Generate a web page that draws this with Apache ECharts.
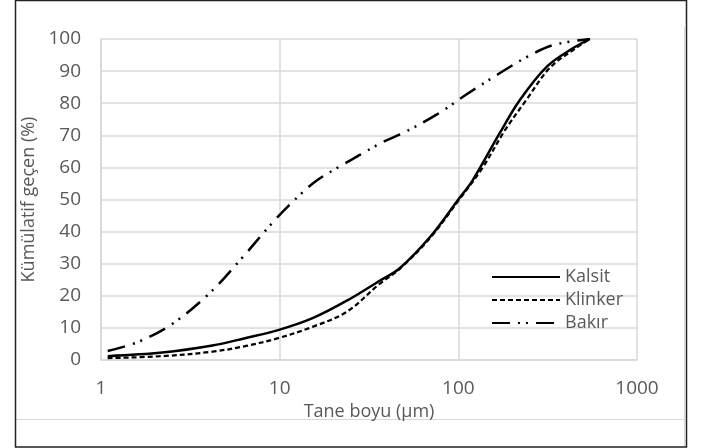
<!DOCTYPE html>
<html><head><meta charset="utf-8">
<script src="https://cdn.jsdelivr.net/npm/echarts@6/dist/echarts.min.js"></script>
<style>html,body{margin:0;padding:0;background:#fff}#c{width:708px;height:448px}</style>
</head><body><div id="c"></div>
<script>
var seriesNames = ['Kalsit', 'Klinker', 'Bakır'];
var xTickLabels = ['1', '10', '100', '1000'];
var kalsitX = [1.09, 2.2, 4.2, 6.4, 9.8, 15.4, 24.7, 36.3, 47, 69.4, 100, 120, 171, 221, 313, 437, 545];
var kalsitY = [1.2, 2.3, 4.5, 6.8, 9.3, 13.1, 19, 24.7, 28.6, 38.3, 50, 55.9, 70.8, 81, 91.4, 97.1, 100];
var klinkerX = [1.09, 2.2, 4.2, 6.4, 9.8, 15.4, 23.7, 36.4, 47, 69.4, 100, 137, 182, 240, 325, 450, 545];
var klinkerY = [0.6, 1.2, 2.6, 4.3, 6.8, 10.4, 15, 23.8, 28.4, 38, 49.6, 60, 71.5, 81, 91, 97, 100];
var bakirX = [1.09, 1.61, 2.5, 4.07, 6.2, 9.4, 13.3, 16.2, 22.3, 28.1, 37.8, 49, 75.9, 113, 171, 242, 339, 545];
var bakirY = [2.8, 5.6, 11.2, 20.9, 32, 43.6, 52, 56, 60.7, 63.9, 67.9, 70.7, 76.5, 83, 89.4, 94.4, 98.1, 100];

function pairs(xs, ys) { return xs.map(function (x, i) { return [x, ys[i]]; }); }
var txt = '#595959', grid = '#d9d9d9', font = 'Open Sans';
var chart = echarts.init(document.getElementById('c'));
chart.setOption({
  animation: false,
  textStyle: { fontFamily: font },
  grid: { left: 101, right: 71, top: 39, bottom: 88 },
  graphic: [
    { type: 'line', shape: { x1: 15, y1: 419.5, x2: 684, y2: 419.5 }, style: { stroke: grid, lineWidth: 1 } },
    { type: 'line', shape: { x1: 684.5, y1: 27, x2: 684.5, y2: 447 }, style: { stroke: grid, lineWidth: 1 } },
    { type: 'rect', shape: { x: 15.5, y: 0.5, width: 671, height: 446.5 }, style: { fill: 'none', stroke: '#222', lineWidth: 1.5 } }
  ],
  legend: {
    orient: 'vertical', left: 486, top: 263, itemWidth: 68, itemHeight: 14, itemGap: 5,
    itemStyle: { opacity: 0 },
    textStyle: { color: txt, fontSize: 18, fontFamily: font },
    data: seriesNames
  },
  xAxis: {
    type: 'log', logBase: 10, min: 1, max: 1000,
    name: 'Tane boyu (µm)', nameLocation: 'middle', nameGap: 34,
    nameTextStyle: { color: txt, fontSize: 18, fontFamily: font },
    axisLine: { show: true, lineStyle: { color: grid, width: 1.5 } },
    axisTick: { show: false },
    axisLabel: { color: txt, fontSize: 19, margin: 19, fontFamily: font,
      formatter: function (v) { var s = String(Math.round(v)); return xTickLabels.indexOf(s) >= 0 ? s : ''; } },
    splitLine: { show: true, lineStyle: { color: grid, width: 1.5 } },
    minorSplitLine: { show: false }
  },
  yAxis: {
    type: 'value', min: 0, max: 100, interval: 10,
    name: 'Kümülatif geçen (%)', nameLocation: 'middle', nameGap: 59,
    nameTextStyle: { color: txt, fontSize: 18, fontFamily: font },
    axisLine: { show: true, lineStyle: { color: grid, width: 1.5 } },
    axisTick: { show: false },
    axisLabel: { color: txt, fontSize: 19, margin: 20, fontFamily: font },
    splitLine: { show: true, lineStyle: { color: grid, width: 1.5 } }
  },
  series: [
    { name: seriesNames[0], type: 'line', smooth: 0.35, symbol: 'none', data: pairs(kalsitX, kalsitY),
      lineStyle: { color: '#000', width: 2.5, type: 'solid' }, itemStyle: { color: '#000' } },
    { name: seriesNames[1], type: 'line', smooth: 0.35, symbol: 'none', data: pairs(klinkerX, klinkerY),
      lineStyle: { color: '#000', width: 2.25, type: [5, 3] }, itemStyle: { color: '#000' } },
    { name: seriesNames[2], type: 'line', smooth: 0.35, symbol: 'none', data: pairs(bakirX, bakirY),
      lineStyle: { color: '#000', width: 2.5, type: [18, 8, 2, 6, 2, 8] }, itemStyle: { color: '#000' } }
  ]
});
</script></body></html>
